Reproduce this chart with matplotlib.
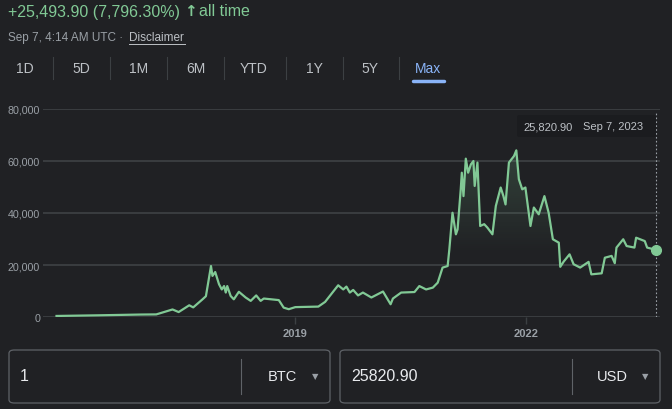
import numpy as np
import pandas as pd
import matplotlib
matplotlib.use("Agg")
import matplotlib.pyplot as plt
import matplotlib.dates as mdates
from matplotlib.patches import FancyBboxPatch, Polygon

plt.rcParams['font.family'] = ['Liberation Sans', 'DejaVu Sans']

# price history (USD)
dates = ["2015-12-01", "2016-06-15", "2017-01-05", "2017-03-17", "2017-06-02", "2017-07-01",
         "2017-08-20", "2017-09-08", "2017-10-22", "2017-11-07", "2017-12-01", "2017-12-08",
         "2017-12-21", "2018-01-08", "2018-01-21", "2018-02-01", "2018-02-09", "2018-02-16",
         "2018-03-04", "2018-03-19", "2018-04-12", "2018-05-14", "2018-06-07", "2018-07-03",
         "2018-07-24", "2018-08-08", "2018-10-18", "2018-11-10", "2018-12-04", "2019-01-04",
         "2019-04-23", "2019-05-25", "2019-07-26", "2019-08-19", "2019-09-03", "2019-09-19",
         "2019-10-05", "2019-10-28", "2019-11-20", "2019-12-30", "2020-02-23", "2020-03-30",
         "2020-04-10", "2020-05-19", "2020-07-21", "2020-08-13", "2020-09-14", "2020-10-16",
         "2020-11-08", "2020-12-01", "2020-12-25", "2021-01-02", "2021-01-17", "2021-02-02",
         "2021-02-10", "2021-02-25", "2021-03-02", "2021-03-10", "2021-03-21", "2021-04-01",
         "2021-04-14", "2021-04-26", "2021-05-02", "2021-05-15", "2021-05-28", "2021-06-16",
         "2021-07-01", "2021-07-25", "2021-08-10", "2021-09-02", "2021-09-15", "2021-09-25",
         "2021-10-11", "2021-11-04", "2021-11-15", "2021-11-27", "2021-12-13", "2021-12-28",
         "2022-01-21", "2022-02-06", "2022-03-01", "2022-03-28", "2022-04-17", "2022-05-07",
         "2022-06-04", "2022-06-11", "2022-06-27", "2022-07-25", "2022-08-13", "2022-09-13",
         "2022-10-23", "2022-11-05", "2022-12-24", "2023-01-08", "2023-02-09", "2023-02-24",
         "2023-03-04", "2023-04-05", "2023-04-21", "2023-05-28", "2023-06-05", "2023-07-16",
         "2023-07-27", "2023-09-07"]
prices = [400, 650, 950, 1000, 2900, 1900,
          4500, 3700, 6800, 8000, 19600, 15800,
          17300, 12600, 10600, 11900, 9400, 11900,
          8100, 6800, 9700, 7500, 6200, 8300,
          6200, 7100, 6500, 3600, 3000, 3800,
          4000, 5800, 12200, 10600, 11700, 9400,
          10400, 8300, 9400, 7500, 9800, 4900,
          7100, 9400, 9600, 11900, 10600, 11300,
          13200, 19000, 19600, 26000, 40100, 31800,
          33700, 49100, 55500, 46500, 60900, 55500,
          58700, 60000, 50400, 59400, 35000, 35700,
          34400, 31800, 42700, 49800, 46500, 43300,
          59400, 61900, 64100, 53000, 49100, 49800,
          35000, 42100, 39500, 46500, 40100, 29900,
          28600, 19300, 21300, 24100, 20300, 19000,
          21200, 16400, 16800, 22800, 23500, 20700,
          26700, 29900, 27300, 26700, 30500, 29200,
          26700, 25820.90]
y_ticks = [0, 20000, 40000, 60000, 80000]
x_ticks = ["2019-01-01", "2022-01-01"]
x_tick_labels = ["2019", "2022"]
tabs = ["1D", "5D", "1M", "6M", "YTD", "1Y", "5Y", "Max"]

BG = "#202124"
GREEN = "#81c995"
GRAY = "#9aa0a6"
W, H = 672, 410

def fx(x):
    return x / W

def fy(y):
    return 1 - y / H

fig = plt.figure(figsize=(6.72, 4.10), dpi=100, facecolor=BG)

# chart area
ax = fig.add_axes([fx(43), fy(318), fx(660) - fx(43), fy(110) - fy(318)])
ax.set_facecolor(BG)
d = pd.to_datetime(dates)
xn = mdates.date2num(d)
ax.set_ylim(0, 80000)
ax.set_xlim(pd.Timestamp("2015-09-28"), pd.Timestamp("2023-09-26"))

# soft gradient under the line, strongest near the peaks
poly = Polygon(np.column_stack([np.r_[xn[0], xn, xn[-1]], np.r_[0, prices, 0]]),
               closed=True, fc='none', ec='none', transform=ax.transData)
ax.add_patch(poly)
grad = np.zeros((100, 1, 4))
grad[..., :3] = matplotlib.colors.to_rgb(GREEN)
grad[:, 0, 3] = np.clip((np.linspace(1, 0, 100) - 0.3) / 0.5, 0, 1) * 0.2
im = ax.imshow(grad, aspect='auto', extent=[xn[0], xn[-1], 0, 80000], origin='upper', zorder=1)
im.set_clip_path(poly)

ax.plot(d, prices, color=GREEN, lw=1.6, solid_joinstyle='round', zorder=3)
ax.plot(d[-1:], prices[-1:], 'o', color=GREEN, ms=7, clip_on=False, zorder=4)
ax.set_xlim(pd.Timestamp("2015-09-28"), pd.Timestamp("2023-09-26"))
ax.set_ylim(0, 80000)
ax.set_yticks(y_ticks)
ax.set_yticklabels([f"{v:,}" for v in y_ticks])
ax.set_xticks(pd.to_datetime(x_ticks))
ax.set_xticklabels(x_tick_labels)
ax.grid(axis='y', color="#3c4043", lw=1.3)
ax.set_axisbelow(True)
for s in ax.spines.values():
    s.set_visible(False)
ax.tick_params(axis='y', length=0, pad=2, labelsize=7.7, labelcolor=GRAY)
ax.tick_params(axis='x', length=5, width=1, color="#3c4043", pad=3, labelsize=8, labelcolor=GRAY)
for t in ax.get_xticklabels():
    t.set_fontweight('bold')

# hover line and tooltip
ax.axvline(d[-1], color=GRAY, ls=(0, (1.5, 2)), lw=0.8, ymin=0, ymax=0.985)
fig.patches.append(FancyBboxPatch((fx(517), fy(138)), fx(656) - fx(517), fy(116) - fy(138),
                                  boxstyle="round,pad=0,rounding_size=0.004",
                                  transform=fig.transFigure, fc="#1b1c1f", ec="none"))
fig.text(fx(523), fy(127), f"{prices[-1]:,.2f}", color="#bdc1c6", fontsize=8, va='center')
fig.text(fx(583), fy(127), "Sep 7, 2023", color="#bdc1c6", fontsize=8, va='center')

# header
fig.text(fx(8), fy(12), "+25,493.90 (7,796.30%)", color=GREEN, fontsize=11.5, va='center')
fig.text(fx(184), fy(12), "\u2191", color=GREEN, fontsize=11, va='center', fontweight='bold',
         family=['DejaVu Sans'])
fig.text(fx(199), fy(12), "all time", color=GREEN, fontsize=11.5, va='center')
fig.text(fx(8), fy(38), "Sep 7, 4:14 AM UTC \u00b7", color=GRAY, fontsize=8.5, va='center')
fig.text(fx(129), fy(38), "Disclaimer", color="#bdc1c6", fontsize=8.5, va='center')
fig.add_artist(plt.Line2D([fx(129), fx(185)], [fy(45), fy(45)], color="#bdc1c6", lw=0.7))

# range tabs
tab_x = [25, 81, 139, 196, 254, 314, 370, 428]
sep_x = [53, 110, 167, 224, 286, 343, 399]
for x, t in zip(tab_x, tabs):
    c = "#8ab4f8" if t == "Max" else "#bdc1c6"
    fig.text(fx(x), fy(69), t, color=c, fontsize=10, ha='center', va='center')
for x in sep_x:
    fig.add_artist(plt.Line2D([fx(x), fx(x)], [fy(58), fy(80)], color="#3c4043", lw=0.8))
fig.add_artist(plt.Line2D([fx(413), fx(444)], [fy(82), fy(82)], color="#8ab4f8", lw=2.5,
                          solid_capstyle='round'))

# converter boxes
for (x0, x1, sx, left_txt, unit, ux, ax_) in [(9, 330, 241, "1", "BTC", 268, 315),
                                              (340, 660, 572, "25820.90", "USD", 597, 645)]:
    fig.patches.append(FancyBboxPatch((fx(x0), fy(404)), fx(x1) - fx(x0), fy(351) - fy(404),
                                      boxstyle="round,pad=0,rounding_size=0.008",
                                      transform=fig.transFigure, fc="none", ec="#5f6368", lw=0.9))
    fig.add_artist(plt.Line2D([fx(sx), fx(sx)], [fy(360), fy(395)], color="#5f6368", lw=0.8))
    fig.text(fx(x0 + 11), fy(377), left_txt, color="#e8eaed", fontsize=11.5, va='center')
    fig.text(fx(ux), fy(377), unit, color="#e8eaed", fontsize=10.5, va='center')
    fig.text(fx(ax_), fy(377), "\u25bc", color=GRAY, fontsize=6, ha='center', va='center',
             family=['DejaVu Sans'])

fig.savefig("out.png", dpi=100, facecolor=BG)
